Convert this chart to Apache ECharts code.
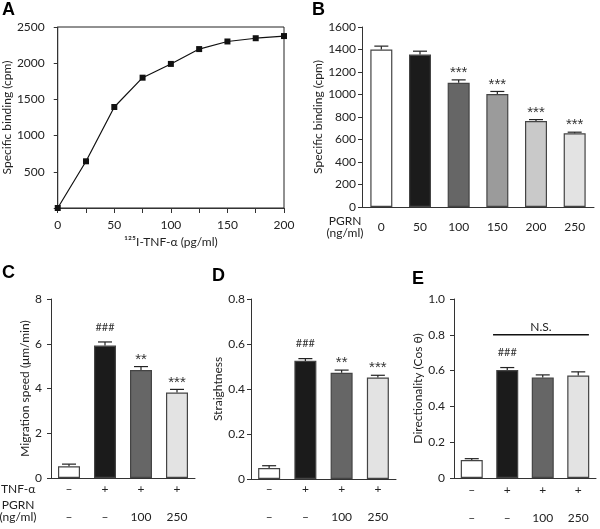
<!DOCTYPE html>
<html>
<head>
<meta charset="utf-8">
<script src="https://cdn.jsdelivr.net/npm/echarts@6/dist/echarts.min.js"></script>
<style>
  html, body { margin: 0; padding: 0; background: #fff; }
  #main { width: 600px; height: 529px; }
</style>
</head>
<body>
<div id="main"></div>
<script>
  // panel A: saturation binding
  const aDose = [0, 25, 50, 75, 100, 125, 150, 175, 200];
  const aBinding = [0, 645, 1395, 1800, 1990, 2195, 2300, 2345, 2375];

  // panel B: competition with PGRN
  const bPgrn = ["0", "50", "100", "150", "200", "250"];
  const bBinding = [1400, 1355, 1105, 1005, 765, 655];
  const bErr = [30, 30, 25, 22, 12, 10];
  const bSig = ["", "", "***", "***", "***", "***"];

  // panels C-E: migration
  const tnfRow = ["–", "+", "+", "+"];
  const pgrnRow = ["–", "–", "100", "250"];
  const cSpeed = [0.52, 5.92, 4.83, 3.82];
  const cErr = [0.1, 0.16, 0.15, 0.14];
  const cSig = ["", "###", "**", "***"];
  const dStraight = [0.049, 0.525, 0.472, 0.451];
  const dErr = [0.01, 0.01, 0.012, 0.01];
  const dSig = ["", "###", "**", "***"];
  const eDir = [0.1, 0.603, 0.562, 0.573];
  const eErr = [0.008, 0.014, 0.014, 0.02];
  const eSig = ["", "###", "", ""];
  const eNs = [1, 3, 0.8];

  const bFills = ["#ffffff", "#1b1b1b", "#666666", "#9b9b9b", "#c9c9c9", "#e3e3e3"];
  const cFills = ["#ffffff", "#1b1b1b", "#666666", "#e3e3e3"];

  const font = "Lato";
  const ink = "#222";

  const chart = echarts.init(document.getElementById("main"));

  function yAx(gi, max, interval, fmt, name, gap, margin) {
    return {
      type: "value", gridIndex: gi, min: 0, max: max, interval: interval,
      name: name, nameLocation: "middle", nameGap: gap,
      nameTextStyle: {fontFamily: font, fontSize: 12, color: ink},
      axisLine: {show: true, lineStyle: {color: "#333", width: 1}},
      axisTick: {show: true, length: 4, lineStyle: {color: "#333"}},
      axisLabel: {fontFamily: font, fontSize: 12, color: ink, margin: margin, formatter: fmt},
      splitLine: {show: false}
    };
  }

  function catAx(gi, data, margin, lh) {
    return {
      type: "category", gridIndex: gi, data: data,
      axisLine: {show: true, lineStyle: {color: "#333", width: 1}},
      axisTick: {show: false},
      axisLabel: {fontFamily: font, fontSize: 12, color: ink, margin: margin, lineHeight: lh, interval: 0}
    };
  }

  function errSeries(xi, vals, errs, sigs) {
    return {
      type: "custom", xAxisIndex: xi, yAxisIndex: xi, z: 5,
      data: vals.map((v, i) => [i, v, errs[i]]),
      renderItem: function (params, api) {
        const i = api.value(0), v = api.value(1), e = api.value(2);
        const base = api.coord([i, v]);
        const top = api.coord([i, v + e]);
        const s = sigs[i];
        const children = [
          {type: "line", shape: {x1: base[0], y1: base[1], x2: top[0], y2: top[1]},
            style: {stroke: "#222", lineWidth: 1.2}},
          {type: "line", shape: {x1: top[0] - 7, y1: top[1], x2: top[0] + 7, y2: top[1]},
            style: {stroke: "#222", lineWidth: 1.2}}
        ];
        if (s) {
          const star = s.charAt(0) === "*";
          children.push({
            type: "text",
            style: {
              text: s, x: top[0], y: top[1] - (star ? 7 : 15),
              textAlign: "center", textVerticalAlign: "middle",
              fill: "#333", font: star ? "15px 'Liberation Sans'" : "11px " + font
            }
          });
        }
        return {type: "group", children: children};
      }
    };
  }

  function barSeries(xi, vals, fills) {
    return {
      type: "bar", xAxisIndex: xi, yAxisIndex: xi, barWidth: 22,
      data: vals.map((v, i) => ({value: v, itemStyle: {color: fills[i]}})),
      itemStyle: {borderColor: "#444", borderWidth: 1.2}
    };
  }

  const rowData = tnfRow.map((t, i) => t + "\n\n" + pgrnRow[i]);
  const decFmt = v => (v === 0 ? "0" : v.toFixed(1));

  const option = {
    backgroundColor: "#fff",
    animation: false,
    grid: [
      {left: 50, top: 27, width: 234, height: 181, show: true, borderColor: "#222", borderWidth: 1},
      {left: 362, top: 27, width: 232, height: 180},
      {left: 51, top: 299, width: 144, height: 179},
      {left: 251, top: 299, width: 145, height: 180},
      {left: 454, top: 299, width: 142, height: 179}
    ],
    xAxis: [
      {
        type: "value", gridIndex: 0, min: 0, max: 200, interval: 25,
        name: "¹²⁵I-TNF-α (pg/ml)", nameLocation: "middle", nameGap: 28,
        nameTextStyle: {fontFamily: font, fontSize: 12, color: ink},
        axisLine: {show: true, lineStyle: {color: "#333"}},
        axisTick: {show: true, length: 5, lineStyle: {color: "#333"}},
        axisLabel: {fontFamily: font, fontSize: 12, color: ink, margin: 11,
          formatter: v => (v % 50 === 0 ? String(v) : "")},
        splitLine: {show: false}
      },
      catAx(1, bPgrn, 13, 14),
      catAx(2, rowData, 4, 14),
      catAx(3, rowData, 3, 14),
      catAx(4, rowData, 5, 14)
    ],
    yAxis: [
      yAx(0, 2500, 500, v => (v === 0 ? "" : String(v)), "Specific binding (cpm)", 34, 13),
      yAx(1, 1600, 200, v => String(v), "Specific binding (cpm)", 35, 6),
      yAx(2, 8, 2, v => String(v), "Migration speed (μm/min)", 18, 9),
      yAx(3, 0.8, 0.2, decFmt, "Straightness", 26, 6),
      yAx(4, 1.0, 0.2, decFmt, "Directionality (Cos θ)", 30, 9)
    ],
    series: [
      {
        type: "line", xAxisIndex: 0, yAxisIndex: 0,
        data: aDose.map((d, i) => [d, aBinding[i]]),
        symbol: "rect", symbolSize: 6,
        lineStyle: {color: "#111", width: 1.2},
        itemStyle: {color: "#111"}
      },
      barSeries(1, bBinding, bFills),
      errSeries(1, bBinding, bErr, bSig),
      barSeries(2, cSpeed, cFills),
      errSeries(2, cSpeed, cErr, cSig),
      barSeries(3, dStraight, cFills),
      errSeries(3, dStraight, dErr, dSig),
      barSeries(4, eDir, cFills),
      errSeries(4, eDir, eErr, eSig),
      {
        type: "custom", xAxisIndex: 4, yAxisIndex: 4, z: 5,
        data: [eNs],
        renderItem: function (params, api) {
          const band = api.size([1, 0])[0];
          const p1 = api.coord([api.value(0), api.value(2)]);
          const p2 = api.coord([api.value(1), api.value(2)]);
          const x1 = p1[0] - 0.4 * band, x2 = p2[0] + 0.3 * band;
          return {
            type: "group",
            children: [
              {type: "line", shape: {x1: x1, y1: p1[1], x2: x2, y2: p1[1]},
                style: {stroke: "#111", lineWidth: 1.5}},
              {type: "text", style: {text: "N.S.", x: (x1 + x2) / 2, y: p1[1] - 8,
                textAlign: "center", textVerticalAlign: "middle", fill: ink, font: "12px " + font}}
            ]
          };
        }
      }
    ],
    graphic: [
      {type: "text", left: 2, top: 1, style: {text: "A", font: "bold 18px 'Liberation Sans'", fill: "#000"}},
      {type: "text", left: 312, top: 1, style: {text: "B", font: "bold 18px 'Liberation Sans'", fill: "#000"}},
      {type: "text", left: 2, top: 264, style: {text: "C", font: "bold 18px 'Liberation Sans'", fill: "#000"}},
      {type: "text", left: 212, top: 267, style: {text: "D", font: "bold 18px 'Liberation Sans'", fill: "#000"}},
      {type: "text", left: 412, top: 270, style: {text: "E", font: "bold 18px 'Liberation Sans'", fill: "#000"}},
      {type: "text", x: 345, y: 221, style: {text: "PGRN", font: "12px " + font, fill: ink, textAlign: "center", textVerticalAlign: "middle"}},
      {type: "text", x: 345, y: 233, style: {text: "(ng/ml)", font: "12px " + font, fill: ink, textAlign: "center", textVerticalAlign: "middle"}},
      {type: "text", x: 1, y: 489, style: {text: "TNF-α", font: "12px " + font, fill: ink, textAlign: "left", textVerticalAlign: "middle"}},
      {type: "text", x: 18, y: 505, style: {text: "PGRN", font: "12px " + font, fill: ink, textAlign: "center", textVerticalAlign: "middle"}},
      {type: "text", x: 18, y: 517, style: {text: "(ng/ml)", font: "12px " + font, fill: ink, textAlign: "center", textVerticalAlign: "middle"}}
    ]
  };

  chart.setOption(option);
</script>
</body>
</html>
